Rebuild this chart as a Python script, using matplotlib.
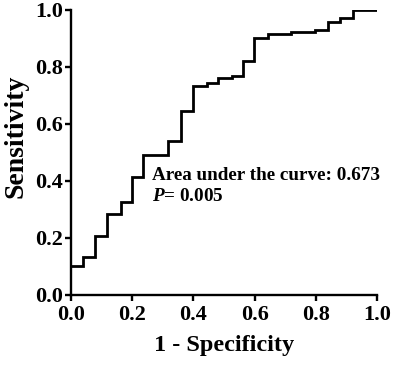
import matplotlib
matplotlib.use("Agg")
import matplotlib.pyplot as plt

# ROC step curve
fpr = [0.0, 0.040, 0.078, 0.119, 0.162, 0.200, 0.236, 0.318, 0.359, 0.400,
       0.443, 0.481, 0.525, 0.561, 0.599, 0.645, 0.718, 0.797, 0.839, 0.879,
       0.921, 1.0]
tpr = [0.103, 0.134, 0.208, 0.283, 0.325, 0.415, 0.491, 0.541, 0.646, 0.733,
       0.743, 0.760, 0.768, 0.821, 0.901, 0.915, 0.923, 0.930, 0.956, 0.970,
       1.0, 1.0]
ticks = [0.0, 0.2, 0.4, 0.6, 0.8, 1.0]
tick_labels = ["0.0", "0.2", "0.4", "0.6", "0.8", "1.0"]

plt.rcParams['font.family'] = ['Liberation Serif', 'DejaVu Serif']
plt.rcParams['font.weight'] = 'bold'
plt.rcParams['mathtext.fontset'] = 'custom'
plt.rcParams['mathtext.rm'] = 'Liberation Serif:bold'
plt.rcParams['mathtext.it'] = 'Liberation Serif:italic:bold'
plt.rcParams['mathtext.bf'] = 'Liberation Serif:bold'

fig = plt.figure(figsize=(4.0, 3.66), dpi=100)
ax = fig.add_axes([0.1775, 0.194, 0.765, 0.779])

ax.step(fpr, tpr, where='post', color='black', lw=2.0, solid_joinstyle='miter')
ax.set_xlim(0, 1.0)
ax.set_ylim(0, 1.0)
ax.set_xticks(ticks)
ax.set_xticklabels(tick_labels)
ax.set_yticks(ticks)
ax.set_yticklabels(tick_labels)
for s in ['top', 'right']:
    ax.spines[s].set_visible(False)
for s in ['left', 'bottom']:
    ax.spines[s].set_linewidth(1.7)
ax.tick_params(direction='out', length=4, width=1.7, labelsize=16)
ax.tick_params(axis='x', pad=3.5)
ax.tick_params(axis='y', pad=1.5)
for lab in ax.get_xticklabels() + ax.get_yticklabels():
    lab.set_fontweight('bold')
ax.set_xlabel("1 - Specificity", fontsize=17.5, fontweight='bold', labelpad=7)
ax.set_ylabel("Sensitivity", fontsize=20, fontweight='bold', labelpad=2)
ax.yaxis.set_label_coords(-0.14, 0.555)

ax.text(0.264, 0.42, "Area under the curve: 0.673", fontsize=13.8,
        fontweight='bold', va='center', ha='left')
ax.text(0.264, 0.345, r"$\mathit{P}$" + "= 0.005", fontsize=13.8,
        fontweight='bold', va='center', ha='left')

fig.savefig("out.png", dpi=100)
